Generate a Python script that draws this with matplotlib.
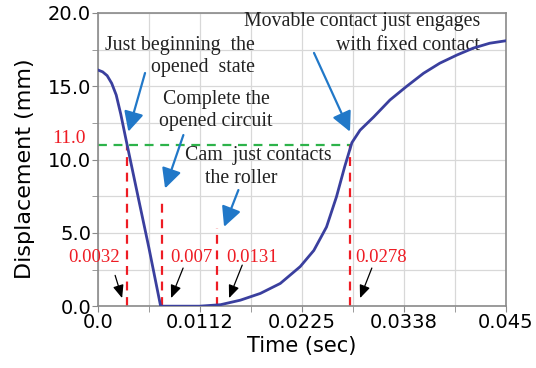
"""
Displacement of the movable contact against time
"""

import matplotlib
matplotlib.use("Agg")
import matplotlib.pyplot as plt
from matplotlib.ticker import MultipleLocator, FixedLocator
from matplotlib.transforms import blended_transform_factory

# curve
time = [0.0, 0.0005, 0.0010, 0.0015, 0.0020, 0.0025, 0.0030, 0.0045, 0.0056, 0.0069,
        0.0080, 0.0112, 0.0135, 0.0157, 0.0179, 0.0201, 0.0223, 0.0238, 0.0252, 0.0263,
        0.0272, 0.0280, 0.0289, 0.0304, 0.0322, 0.0340, 0.0359, 0.0377, 0.0396, 0.0414,
        0.0432, 0.045]
disp = [16.1, 15.98, 15.72, 15.2, 14.4, 13.1, 11.6, 7.2, 4.0, 0.0,
        0.0, 0.0, 0.1, 0.41, 0.87, 1.55, 2.7, 3.8, 5.4, 7.46,
        9.5, 11.15, 12.0, 12.9, 14.06, 14.97, 15.88, 16.57, 17.13, 17.6,
        17.93, 18.1]

xticks = [0.0, 0.01125, 0.0225, 0.03375, 0.045]
xtick_labels = ["0.0", "0.0112", "0.0225", "0.0338", "0.045"]
yticks = [0, 5, 10, 15, 20]

level = 11.0
marks_t = [0.0032, 0.007, 0.0131, 0.0278]
marks_top = [11.0, 7.4, 5.3, 11.0]
marks_text = ["0.0032", "0.007", "0.0131", "0.0278"]
marks_text_x = [-0.0033, 0.00794, 0.01412, 0.02835]
black_tail = [(0.00188, 2.1), (0.00938, 2.6), (0.0159, 2.8), (0.0302, 2.6)]
black_head = [(0.00265, 0.55), (0.00805, 0.55), (0.01445, 0.55), (0.0289, 0.55)]

notes = [("Just beginning  the", 0.01732, 17.8, "right"),
         ("opened  state", 0.01732, 16.25, "right"),
         ("Complete the", 0.01301, 14.06, "center"),
         ("opened circuit", 0.01301, 12.56, "center"),
         ("Cam  just contacts", 0.0096, 10.3, "left"),
         ("the roller", 0.0118, 8.74, "left"),
         ("Movable contact just engages", 0.04213, 19.4, "right"),
         ("with fixed contact", 0.04213, 17.8, "right")]
blue_tail = [(0.00518, 15.9), (0.00941, 11.67), (0.01548, 7.92), (0.02382, 17.27)]
blue_head = [(0.00334, 11.9), (0.00739, 8.03), (0.0139, 5.41), (0.02779, 11.9)]

serif = "Liberation Serif"

fig = plt.figure(figsize=(5.36, 3.68), dpi=100)
ax = fig.add_axes([0.183, 0.168, 0.761, 0.797])

ax.set_xlim(0, 0.045)
ax.set_ylim(0, 20)
ax.xaxis.set_major_locator(FixedLocator(xticks))
ax.set_xticklabels(xtick_labels)
ax.xaxis.set_minor_locator(MultipleLocator(0.005625))
ax.set_yticks(yticks)
ax.set_yticklabels(["%.1f" % v for v in yticks])
ax.yaxis.set_minor_locator(MultipleLocator(2.5))
ax.grid(True, which="both", color="#d8d8d8", lw=0.9)
ax.set_axisbelow(True)
for s in ax.spines.values():
    s.set_color("#8a8a8a")
    s.set_linewidth(1.2)
ax.tick_params(which="both", direction="out", length=4, color="#8a8a8a",
               labelsize=14, pad=1)

ax.plot([0, marks_t[-1]], [level, level], color="#2db34a", lw=1.6, ls=(0, (4, 3)))
for t, top in zip(marks_t, marks_top):
    ax.plot([t, t], [0, top], color="#ee1c24", lw=1.6, ls=(0, (4, 3)))

ax.plot(time, disp, color="#3a3f9e", lw=2.0, zorder=5)

trans = blended_transform_factory(ax.transAxes, ax.transData)
ax.text(-0.03, level + 0.4, "%.1f" % level, color="#ee1c24", fontsize=14,
        family=serif, ha="right", va="center", transform=trans)

for txt, x in zip(marks_text, marks_text_x):
    ax.text(x, 3.35, txt, color="#ee1c24", fontsize=13.5, family=serif,
            ha="left", va="center")
for tail, head in zip(black_tail, black_head):
    ax.annotate("", xy=head, xytext=tail,
                arrowprops=dict(arrowstyle="-|>,head_length=0.6,head_width=0.25",
                                color="black", lw=0.9, mutation_scale=13,
                                shrinkA=0, shrinkB=0))

for txt, x, y, ha in notes:
    ax.text(x, y, txt, fontsize=14.3, family=serif, ha=ha, va="center",
            color="#222222")
for tail, head in zip(blue_tail, blue_head):
    ax.annotate("", xy=head, xytext=tail,
                arrowprops=dict(arrowstyle="-|>,head_length=0.8,head_width=0.4",
                                color="#2178c8", lw=1.6, mutation_scale=15,
                                shrinkA=0, shrinkB=0))

ax.set_xlabel("Time (sec)", fontsize=15, labelpad=3)
ax.set_ylabel("Displacement (mm)", fontsize=16)
ax.yaxis.set_label_coords(-0.155, 0.47)

fig.savefig("out.png", dpi=100)
